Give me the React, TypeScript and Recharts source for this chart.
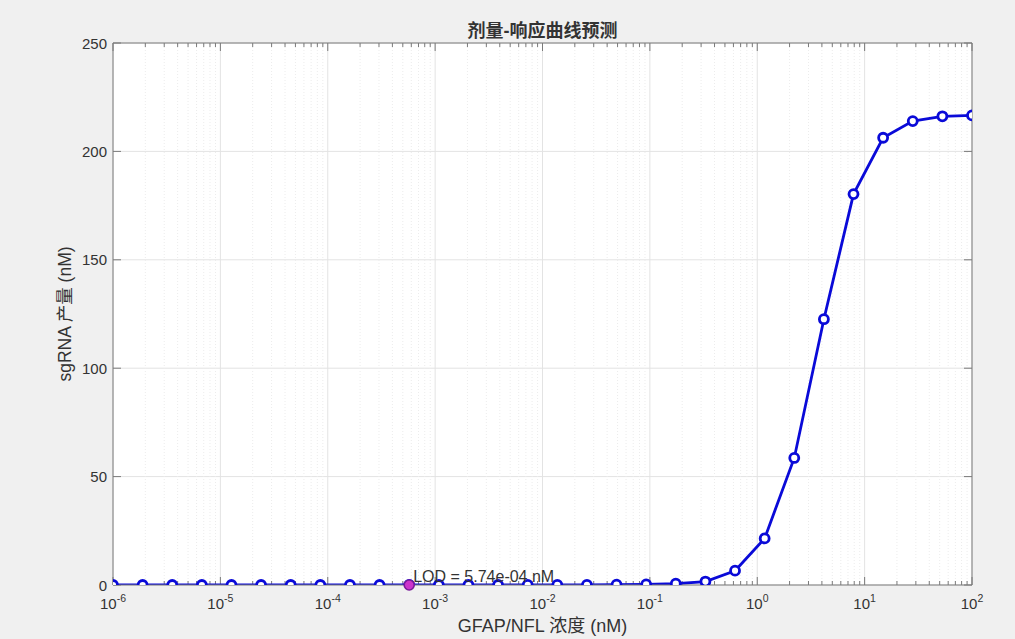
import React from 'react';
import { LineChart, Line, XAxis, YAxis, CartesianGrid, ReferenceLine, ReferenceDot } from 'recharts';

// 30 log-spaced concentrations (nM)
const concentrations = [
  1e-6, 1.887e-6, 3.562e-6, 6.723e-6, 1.269e-5, 2.395e-5, 4.52e-5, 8.532e-5,
  1.61e-4, 3.039e-4, 5.736e-4, 1.083e-3, 2.043e-3, 3.857e-3, 7.279e-3, 1.374e-2,
  2.593e-2, 4.894e-2, 9.237e-2, 0.1743, 0.329, 0.621, 1.172, 2.212,
  4.175, 7.88, 14.87, 28.07, 52.98, 100,
];

// sgRNA output (nM)
const sgRNA = [
  0, 0, 0, 0, 0, 0, 0, 0,
  0, 0, 0, 0, 0, 0.01, 0.02, 0.04,
  0.08, 0.15, 0.3, 0.6, 1.6, 6.6, 21.5, 58.6,
  122.6, 180.3, 206.3, 214.0, 216.2, 216.6,
];

const xTicks = [1e-6, 1e-5, 1e-4, 1e-3, 1e-2, 1e-1, 1, 10, 100];
const yTicks = [0, 50, 100, 150, 200, 250];
const lodValue = 5.736e-4;
const lodLabel = 'LOD = 5.74e-04 nM';

const minorTicks: number[] = [];
for (let d = -6; d < 2; d++) {
  for (let k = 2; k <= 9; k++) minorTicks.push(k * Math.pow(10, d));
}

const data = concentrations.map((c, i) => ({ x: c, y: sgRNA[i] }));

const W = 1015;
const H = 639;
const PLOT = { left: 113, right: 972, top: 43, bottom: 585 };
const pxPerDecade = (PLOT.right - PLOT.left) / 8;
const pxPerUnit = (PLOT.bottom - PLOT.top) / 250;

const FONT = '"Liberation Sans", Arial, "Noto Sans CJK SC", sans-serif';
const TXT = '#333333';
const AXIS = '#7a7a7a';
const BLUE = '#0a0ad8';

const XTick = ({ x, y, payload }: any) => {
  const exp = Math.round(Math.log10(payload.value));
  return (
    <text x={x} y={y + 24} textAnchor="middle" fill={TXT} fontSize={15} fontFamily={FONT}>
      <tspan>10</tspan>
      <tspan dy={-7} fontSize={10.5}>{exp}</tspan>
    </text>
  );
};

const YTick = ({ x, y, payload }: any) => (
  <text x={x} y={y} textAnchor="end" dominantBaseline="central" fill={TXT} fontSize={15} fontFamily={FONT}>
    {payload.value}
  </text>
);

export default function App() {
  const majorLen = 8;
  const minorLen = 4;
  const yLen = (px: number) => px / pxPerUnit;
  const xFac = Math.pow(10, majorLen / pxPerDecade);

  return (
    <div
      style={{
        position: 'absolute',
        left: 0,
        top: 0,
        width: W,
        height: H,
        background: '#f0f0f0',
        fontFamily: FONT,
        overflow: 'hidden',
      }}
    >
      <div
        style={{
          position: 'absolute',
          left: PLOT.left,
          top: PLOT.top,
          width: PLOT.right - PLOT.left,
          height: PLOT.bottom - PLOT.top,
          background: '#ffffff',
        }}
      />
      <LineChart
        width={W}
        height={H}
        data={data}
        margin={{ top: PLOT.top, right: W - PLOT.right, bottom: H - PLOT.bottom - 30, left: PLOT.left - 60 }}
        style={{ position: 'absolute', left: 0, top: 0 }}
      >
        <CartesianGrid stroke="#e3e3e3" strokeWidth={1} />
        {minorTicks.map((v) => (
          <ReferenceLine key={`mg-${v}`} x={v} stroke="#ececec" strokeDasharray="1 2" ifOverflow="visible" />
        ))}
        <XAxis
          dataKey="x"
          type="number"
          scale="log"
          domain={[1e-6, 100]}
          ticks={xTicks}
          allowDataOverflow
          height={30}
          tickSize={0}
          tickMargin={0}
          tickLine={false}
          axisLine={{ stroke: AXIS }}
          tick={<XTick />}
          interval={0}
        />
        <YAxis
          type="number"
          domain={[0, 250]}
          ticks={yTicks}
          allowDataOverflow
          width={60}
          tickSize={0}
          tickMargin={6}
          tickLine={false}
          axisLine={{ stroke: AXIS }}
          tick={<YTick />}
          interval={0}
        />
        <ReferenceLine y={250} stroke={AXIS} ifOverflow="visible" />
        <ReferenceLine x={100} stroke={AXIS} ifOverflow="visible" />
        {xTicks.map((v) => (
          <ReferenceLine key={`bt-${v}`} segment={[{ x: v, y: 0 }, { x: v, y: yLen(majorLen) }]} stroke={AXIS} ifOverflow="visible" />
        ))}
        {xTicks.map((v) => (
          <ReferenceLine key={`tt-${v}`} segment={[{ x: v, y: 250 }, { x: v, y: 250 - yLen(majorLen) }]} stroke={AXIS} ifOverflow="visible" />
        ))}
        {minorTicks.map((v) => (
          <ReferenceLine key={`bm-${v}`} segment={[{ x: v, y: 0 }, { x: v, y: yLen(minorLen) }]} stroke={AXIS} ifOverflow="visible" />
        ))}
        {minorTicks.map((v) => (
          <ReferenceLine key={`tm-${v}`} segment={[{ x: v, y: 250 }, { x: v, y: 250 - yLen(minorLen) }]} stroke={AXIS} ifOverflow="visible" />
        ))}
        {yTicks.map((v) => (
          <ReferenceLine key={`lt-${v}`} segment={[{ x: 1e-6, y: v }, { x: 1e-6 * xFac, y: v }]} stroke={AXIS} ifOverflow="visible" />
        ))}
        {yTicks.map((v) => (
          <ReferenceLine key={`rt-${v}`} segment={[{ x: 100, y: v }, { x: 100 / xFac, y: v }]} stroke={AXIS} ifOverflow="visible" />
        ))}
        <Line
          dataKey="y"
          stroke={BLUE}
          strokeWidth={2.8}
          dot={{ r: 4.5, stroke: BLUE, strokeWidth: 2.8, fill: '#ffffff' }}
          activeDot={false}
          isAnimationActive={false}
        />
        <ReferenceDot
          x={lodValue}
          y={0}
          r={5}
          fill="#cc33cc"
          stroke="#7a1a9a"
          strokeWidth={1.6}
          ifOverflow="visible"
        />
        <ReferenceDot
          x={lodValue}
          y={4.2}
          r={0}
          fill="none"
          stroke="none"
          ifOverflow="visible"
          label={{ value: lodLabel, position: 'right', offset: 4, fill: TXT, fontSize: 16, fontFamily: FONT }}
        />
      </LineChart>
      <div
        style={{
          position: 'absolute',
          left: 0,
          width: (PLOT.left + PLOT.right),
          top: 21,
          lineHeight: '20px',
          textAlign: 'center',
          fontSize: 18,
          fontWeight: 'bold',
          color: TXT,
        }}
      >
        剂量-响应曲线预测
      </div>
      <div
        style={{
          position: 'absolute',
          left: 0,
          width: (PLOT.left + PLOT.right),
          top: 616,
          lineHeight: '20px',
          textAlign: 'center',
          fontSize: 18,
          color: TXT,
        }}
      >
        GFAP/NFL 浓度 (nM)
      </div>
      <div
        style={{
          position: 'absolute',
          left: 65,
          top: 314,
          transform: 'translate(-50%, -50%) rotate(-90deg)',
          whiteSpace: 'nowrap',
          lineHeight: '20px',
          fontSize: 17.5,
          color: TXT,
        }}
      >
        sgRNA 产量 (nM)
      </div>
    </div>
  );
}
